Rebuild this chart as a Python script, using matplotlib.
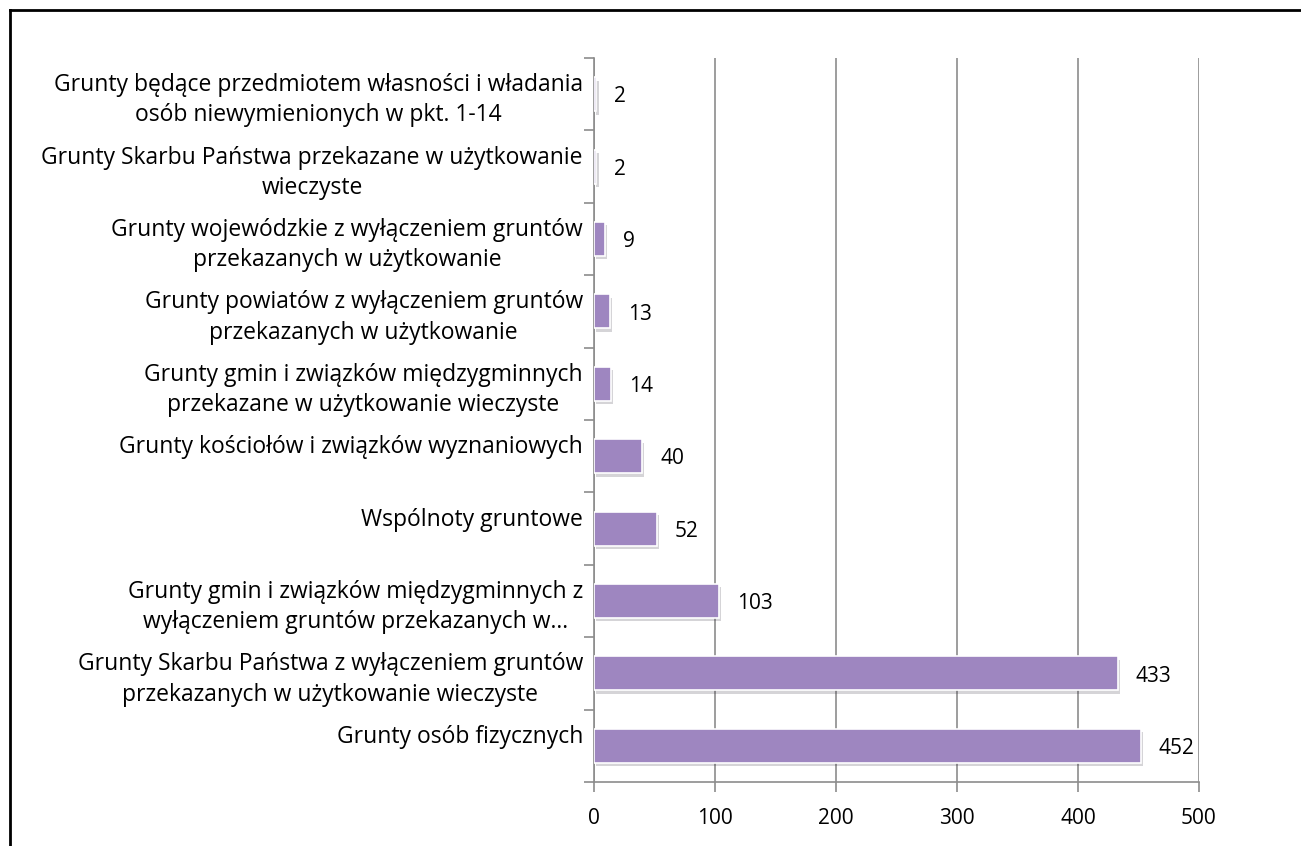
import matplotlib.pyplot as plt
import matplotlib.patheffects as pe
from matplotlib.lines import Line2D

# Data (bottom to top as drawn)
categories = [
    'Grunty osób fizycznych',
    'Grunty Skarbu Państwa z wyłączeniem gruntów\nprzekazanych w użytkowanie wieczyste',
    'Grunty gmin i związków międzygminnych z\nwyłączeniem gruntów przekazanych w…',
    'Wspólnoty gruntowe',
    'Grunty kościołów i związków wyznaniowych',
    'Grunty gmin i związków międzygminnych\nprzekazane w użytkowanie wieczyste',
    'Grunty powiatów z wyłączeniem gruntów\nprzekazanych w użytkowanie',
    'Grunty wojewódzkie z wyłączeniem gruntów\nprzekazanych w użytkowanie',
    'Grunty Skarbu Państwa przekazane w użytkowanie\nwieczyste',
    'Grunty będące przedmiotem własności i władania\nosób niewymienionych w pkt. 1-14',
]
values = [452, 433, 103, 52, 40, 14, 13, 9, 2, 2]
xticks = [0, 100, 200, 300, 400, 500]

plt.rcParams['font.family'] = ['Open Sans', 'DejaVu Sans']

fig = plt.figure(figsize=(13.01, 8.46), dpi=100)
ax = fig.add_axes([594 / 1301, 1 - 782 / 846, (1199 - 594) / 1301, (782 - 58) / 846])

grey = '#8c8c8c'
pos = list(range(len(categories)))
ax.barh(pos, values, height=0.47, color='#9e86c0', edgecolor='white',
        linewidth=1.2, zorder=3,
        path_effects=[pe.SimplePatchShadow(offset=(1.5, -2.5), alpha=0.2), pe.Normal()])

for p, v in zip(pos, values):
    ax.annotate(str(v), (v, p), xytext=(13, -2), textcoords='offset points',
                va='center', ha='left', fontsize=15, color='black')

# single-line labels sit at the top of their slot, like two-line ones
labels = [c if '\n' in c else c + '\n ' for c in categories]

ax.set_xlim(0, 500)
ax.set_ylim(-0.5, len(categories) - 0.5)
ax.set_xticks(xticks)
ax.set_xticklabels([str(t) for t in xticks], fontsize=15)
ax.set_yticks(pos)
ax.set_yticklabels(labels, fontsize=16.5, multialignment='center', linespacing=1.35)
ax.set_yticks([i - 0.5 for i in range(len(categories) + 1)], minor=True)
ax.tick_params(axis='y', which='major', length=0, pad=8)
ax.tick_params(axis='y', which='minor', length=7, color=grey, width=1.2)
ax.tick_params(axis='x', length=7, color=grey, width=1.2, pad=12)

ax.grid(axis='x', color=grey, linewidth=1.2, zorder=0)
for s in ['top', 'right']:
    ax.spines[s].set_visible(False)
for s in ['left', 'bottom']:
    ax.spines[s].set_color(grey)
    ax.spines[s].set_linewidth(1.2)

# outer frame (only top and left edges show)
x0, y0 = 9.5 / 1301, 1 - 10.5 / 846
fig.add_artist(Line2D([x0, 1], [y0, y0], transform=fig.transFigure, color='black', lw=2))
fig.add_artist(Line2D([x0, x0], [0, y0], transform=fig.transFigure, color='black', lw=2))

fig.savefig('out.png', dpi=100)
